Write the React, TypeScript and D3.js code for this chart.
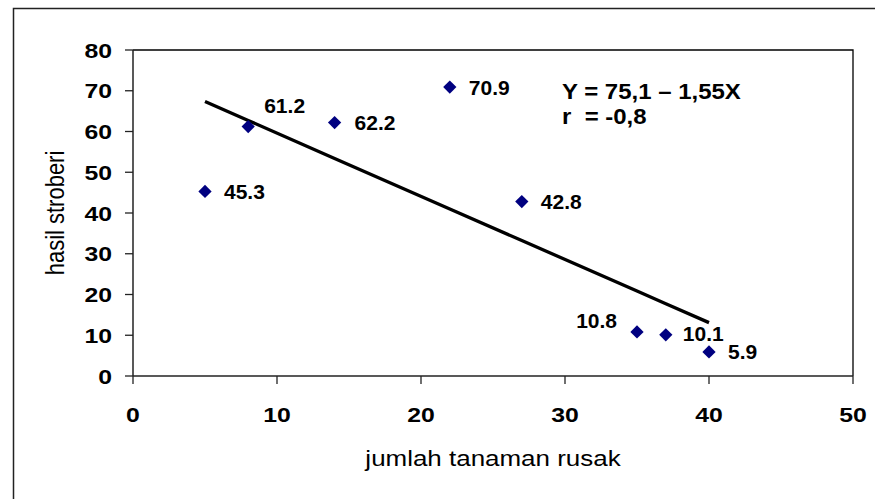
import React from 'react'
import * as d3 from 'd3'

// data
const damaged = [5, 8, 14, 22, 27, 35, 37, 40]
const harvest = [45.3, 61.2, 62.2, 70.9, 42.8, 10.8, 10.1, 5.9]
const fitted = [67.35, 62.7, 53.4, 41.0, 33.25, 20.85, 17.75, 13.1]
const xTicks = [0, 10, 20, 30, 40, 50]
const yTicks = [0, 10, 20, 30, 40, 50, 60, 70, 80]
const equation = ['Y = 75,1 \u2013 1,55X', 'r  = -0,8']

// label placement around each point: [dx, dy, anchor]
const labelPos: [number, number, string][] = [
  [19, 0, 'start'],
  [16, -21, 'start'],
  [20, 0, 'start'],
  [19, 0, 'start'],
  [19, 0, 'start'],
  [-20, -11, 'end'],
  [17, -1, 'start'],
  [19, 0, 'start'],
]

const W = 875
const H = 499
const margin = { top: 50, right: 22, bottom: 123, left: 133 }
const FONT = '"Liberation Sans", Arial, sans-serif'
const NAVY = '#000080'

export default function App() {
  const x = d3.scaleLinear().domain([0, 50]).range([margin.left, W - margin.right])
  const y = d3.scaleLinear().domain([0, 80]).range([H - margin.bottom, margin.top])

  const line = d3.line<number>()
    .x((_, i) => x(damaged[i]))
    .y(d => y(d))

  const diamond = d3.symbol().type(d3.symbolSquare).size(88)()

  const x0 = x(0), x1 = x(50), y0 = y(0), y1 = y(80)

  return (
    <svg width={W} height={H} style={{ position: 'absolute', left: 0, top: 0, background: '#fff' }}
      fontFamily={FONT}>
      {/* outer chart frame */}
      <path d={`M13.5,${H} V8.5 H${W}`} fill="none" stroke="#222" strokeWidth={1.5} />

      {/* plot box */}
      <path d={`M${x0},${y1} H${x1} V${y0}`} fill="none" stroke="#000" strokeWidth={1.3} />
      <line x1={x0} x2={x0} y1={y1} y2={y0} stroke="#222" strokeWidth={1.5} />
      <line x1={x0} x2={x1} y1={y0} y2={y0} stroke="#222" strokeWidth={1.5} />

      {/* y axis */}
      {yTicks.map(t => (
        <g key={'y' + t}>
          <line x1={x0 - 8} x2={x0} y1={y(t)} y2={y(t)} stroke="#222" strokeWidth={1.3} />
          <text transform={`translate(112,${y(t) + 7.5}) scale(1.18,1)`} textAnchor="end"
            fontSize={21} fontWeight="bold">{t}</text>
        </g>
      ))}

      {/* x axis */}
      {xTicks.map(t => (
        <g key={'x' + t}>
          <line x1={x(t)} x2={x(t)} y1={y0} y2={y0 + 8} stroke="#222" strokeWidth={1.3} />
          <text transform={`translate(${x(t)},422) scale(1.18,1)`} textAnchor="middle"
            fontSize={21} fontWeight="bold">{t}</text>
        </g>
      ))}

      {/* axis titles */}
      <text transform="translate(493,466) scale(1.18,1)" textAnchor="middle" fontSize={22}>
        jumlah tanaman rusak
      </text>
      <text transform={`translate(64,${(y0 + y1) / 2}) scale(1.2,1) rotate(-90)`} textAnchor="middle"
        fontSize={22}>hasil stroberi</text>

      {/* regression line */}
      <path d={line(fitted) || ''} fill="none" stroke="#000" strokeWidth={3.3} />

      {/* points */}
      {damaged.map((d, i) => (
        <path key={'p' + i} d={diamond || ''} fill={NAVY}
          transform={`translate(${x(d)},${y(harvest[i])}) rotate(45)`} />
      ))}

      {/* value labels */}
      {damaged.map((d, i) => {
        const [dx, dy, anchor] = labelPos[i]
        return (
          <text key={'l' + i} x={x(d) + dx} y={y(harvest[i]) + dy + 7.5} textAnchor={anchor}
            fontSize={21} fontWeight="bold">{harvest[i]}</text>
        )
      })}

      {/* equation */}
      {equation.map((s, i) => (
        <text key={'e' + i} transform={`translate(562,${99 + i * 25}) scale(1.09,1)`}
          fontSize={22} fontWeight="bold" style={{ whiteSpace: 'pre' }}>{s}</text>
      ))}
    </svg>
  )
}
